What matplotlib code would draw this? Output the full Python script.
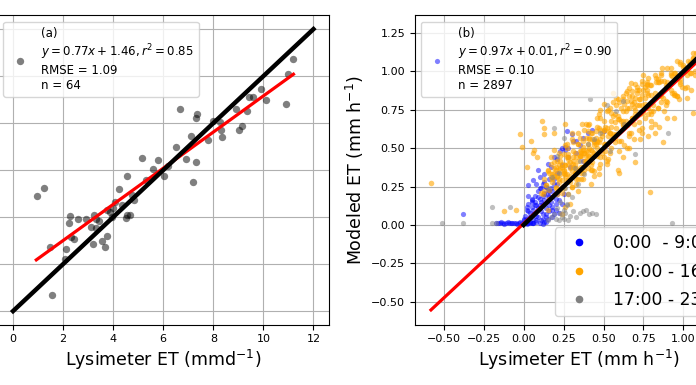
import matplotlib
matplotlib.use('Agg')
import matplotlib.pyplot as plt
from matplotlib.lines import Line2D

# panel (a), daily ET
daily_x = [11.2, 11.0, 9.92, 10.09, 10.9, 9.42, 9.6, 8.9, 9.36, 9.16, 9.01, 6.68, 7.34, 7.3, 8.0, 8.27,
           8.3, 8.35, 7.79, 7.12, 6.5, 6.92, 7.3, 5.14, 5.78, 5.58, 6.2, 6.04, 4.56, 7.2, 1.24, 4.23,
           0.97, 4.85, 4.07, 4.37, 3.74, 3.87, 2.28, 3.23, 4.67, 4.54, 4.5, 2.61, 2.92, 3.31, 3.94, 2.25,
           3.13, 3.31, 2.32, 2.42, 3.74, 3.54, 3.19, 3.67, 1.46, 2.12, 2.08, 1.57, 4.0, 3.45, 5.3, 4.75]
daily_y = [10.72, 10.09, 9.46, 9.0, 8.82, 9.1, 9.09, 8.58, 8.52, 7.86, 7.7, 8.61, 8.38, 8.21, 8.1, 8.06,
           7.7, 7.39, 7.28, 7.46, 6.99, 6.46, 6.35, 6.5, 6.41, 6.03, 6.18, 5.77, 5.74, 5.49, 5.25, 5.18,
           4.91, 4.72, 4.65, 4.51, 4.3, 4.2, 4.06, 4.09, 4.11, 4.09, 3.96, 3.9, 3.94, 3.93, 4.01, 3.77,
           3.59, 3.54, 3.16, 3.08, 3.19, 2.98, 2.86, 2.72, 2.72, 2.65, 2.21, 0.68, 4.4, 3.85, 5.6, 4.95]
daily_fit_x = [0.93, 11.2]
daily_fit_y = [2.18, 10.08]
daily_one_x = [0, 12]
daily_one_y = [0, 12]

# panel (b), hourly ET
blue_x = [-0.17, -0.15, -0.13, -0.11, -0.09, -0.07, -0.05, -0.03, -0.01, 0.0, 0.01, 0.02, 0.03, 0.04, 0.05, 0.06,
          -0.38, 0.03, 0.06, 0.08, 0.10, 0.03, 0.05, 0.02, 0.07, 0.09, 0.11, 0.13, 0.04, 0.06, 0.08, 0.10,
          0.12, 0.14, 0.16, 0.18, 0.02, 0.05, 0.07, 0.09, 0.11, 0.13, 0.15, 0.10, 0.12, 0.14, 0.16, 0.18,
          0.20, 0.09, 0.13, 0.17, 0.21, 0.15, 0.19, 0.23, 0.26, 0.27, 0.30, 0.33, 0.35, 0.37, 0.40, 0.43,
          0.50, 0.24, 0.26, 0.28, 0.31, 0.21, 0.24, 0.28, 0.19, 0.16, 0.18, 0.13, 0.37, 0.33, 0.29, 0.22,
          -0.16, -0.14, -0.12, -0.10, -0.08, -0.06, -0.04, -0.02, 0.0, 0.02, 0.04, 0.06, 0.08, 0.10, 0.12, 0.14,
          0.0, 0.01, 0.02, 0.03, 0.04, 0.05, 0.06, 0.07, 0.08, 0.09, 0.10, 0.11, 0.12, 0.13, 0.14, 0.15,
          0.02, 0.03, 0.04, 0.05, 0.06, 0.07, 0.08, 0.09, 0.10, 0.11, 0.12, 0.13, 0.14, 0.15, 0.16, 0.17,
          0.16, 0.17, 0.18, 0.19, 0.20, 0.21, 0.12, 0.14, 0.15, 0.18, 0.20, 0.22, 0.24, 0.25, 0.19, 0.21]
blue_y = [0.01, 0.01, 0.01, 0.01, 0.01, 0.01, 0.01, 0.01, 0.01, 0.01, 0.01, 0.01, 0.01, 0.01, 0.01, 0.01,
          0.07, 0.26, 0.29, 0.27, 0.24, 0.19, 0.15, 0.12, 0.08, 0.05, 0.03, 0.02, 0.05, 0.07, 0.03, 0.11,
          0.07, 0.05, 0.13, 0.10, 0.04, 0.16, 0.13, 0.18, 0.15, 0.21, 0.19, 0.31, 0.27, 0.25, 0.30, 0.22,
          0.17, 0.36, 0.33, 0.38, 0.34, 0.40, 0.44, 0.48, 0.51, 0.61, 0.59, 0.55, 0.52, 0.57, 0.60, 0.62,
          0.61, 0.50, 0.49, 0.50, 0.55, 0.43, 0.39, 0.44, 0.27, 0.22, 0.12, 0.28, 0.42, 0.47, 0.38, 0.08,
          0.01, 0.02, 0.005, 0.02, 0.01, 0.015, 0.005, 0.02, 0.03, 0.005, 0.02, 0.01, 0.02, 0.01, 0.005, 0.02,
          0.04, 0.06, 0.03, 0.09, 0.05, 0.12, 0.04, 0.15, 0.06, 0.11, 0.17, 0.09, 0.14, 0.20, 0.11, 0.16,
          0.10, 0.14, 0.08, 0.17, 0.10, 0.19, 0.13, 0.22, 0.13, 0.24, 0.19, 0.16, 0.25, 0.22, 0.19, 0.24,
          0.09, 0.15, 0.18, 0.07, 0.14, 0.20, 0.04, 0.07, 0.04, 0.05, 0.10, 0.16, 0.14, 0.20, 0.30, 0.27]

orange_x = [-0.58, 0.79, -0.02, -0.01, 0.115, 0.13, 0.13, 0.045, 0.065, 0.06, 0.085, 0.02, 0.26, 0.365, 0.60, 0.59,
            0.87, 0.94, 1.06, 1.02, 0.96, 0.865, 1.06, 0.67, 0.56, 0.18, 0.21, 0.24, 0.11, 0.15, -0.12, -0.05,
            0.26, 0.19, 0.39, 0.12, 0.14, 0.16, 0.18, 0.20, 0.22, 0.24, 0.26, 0.28, 0.30, 0.32, 0.34, 0.36,
            0.13, 0.15, 0.17, 0.19, 0.21, 0.23, 0.25, 0.27, 0.29, 0.31, 0.33, 0.35, 0.37, 0.39, 0.41, 0.43,
            0.17, 0.19, 0.21, 0.23, 0.25, 0.27, 0.29, 0.31, 0.33, 0.35, 0.37, 0.39, 0.41, 0.43, 0.45, 0.47,
            0.20, 0.22, 0.24, 0.26, 0.28, 0.30, 0.32, 0.34, 0.36, 0.38, 0.40, 0.42, 0.44, 0.46, 0.48, 0.50,
            0.22, 0.25, 0.28, 0.31, 0.34, 0.37, 0.40, 0.43, 0.46, 0.49, 0.52, 0.55, 0.58, 0.61, 0.64, 0.67,
            0.27, 0.30, 0.33, 0.36, 0.39, 0.42, 0.45, 0.48, 0.51, 0.54, 0.57, 0.60, 0.63, 0.66, 0.69, 0.72,
            0.35, 0.38, 0.41, 0.44, 0.47, 0.50, 0.53, 0.56, 0.59, 0.62, 0.65, 0.68, 0.71, 0.74, 0.77, 0.80,
            0.40, 0.44, 0.48, 0.52, 0.56, 0.60, 0.64, 0.68, 0.72, 0.76, 0.80, 0.84, 0.88, 0.92, 0.96, 1.00,
            0.46, 0.50, 0.54, 0.58, 0.62, 0.66, 0.70, 0.74, 0.78, 0.82, 0.86, 0.90, 0.94, 0.98, 1.02, 1.06,
            0.52, 0.57, 0.61, 0.65, 0.69, 0.73, 0.77, 0.81, 0.85, 0.89, 0.93, 0.97, 1.01, 1.05, 1.08, 0.75,
            0.62, 0.66, 0.70, 0.74, 0.78, 0.82, 0.86, 0.90, 0.94, 0.98, 1.03, 1.07, 0.80, 0.84, 0.72, 0.76,
            0.44, 0.48, 0.38, 0.33, 0.50, 0.53, 0.55, 0.47, 0.42, 0.36, 0.62, 0.66, 0.70, 0.78, 0.82, 0.85,
            0.19, 0.24, 0.26, 0.28, 0.31, 0.29, 0.14, 0.16, 0.18, 0.20, 0.22, 0.24, 0.26, 0.28, 0.30, 0.32,
            0.34, 0.36, 0.38, 0.40, 0.42, 0.44, 0.15, 0.17, 0.19, 0.21, 0.23, 0.25, 0.27, 0.29, 0.31, 0.33,
            0.35, 0.37, 0.39, 0.41, 0.43, 0.45, 0.46, 0.48, 0.50, 0.52, 0.54, 0.56, 0.58, 0.60, 0.62, 0.64,
            0.66, 0.68, 0.70, 0.72, 0.74, 0.76, 0.47, 0.49, 0.51, 0.53, 0.55, 0.57, 0.59, 0.61, 0.63, 0.65,
            0.67, 0.69, 0.71, 0.73, 0.75, 0.77, 0.78, 0.80, 0.82, 0.84, 0.86, 0.88, 0.90, 0.92, 0.94, 0.96,
            0.98, 1.00, 1.02, 1.04, 1.06, 1.08, 0.62, 0.65, 0.68, 0.71, 0.74, 0.77, 0.80, 0.83, 0.86, 0.89,
            0.92, 0.95, 0.98, 1.01, 1.04, 1.07, 0.13, 0.16, 0.19, 0.22, 0.25, 0.28, 0.31, 0.34, 0.37, 0.40,
            0.43, 0.46, 0.49, 0.52, 0.55, 0.58, 0.24, 0.27, 0.30, 0.33, 0.36, 0.39, 0.42, 0.45, 0.48, 0.51,
            0.54, 0.57, 0.60, 0.63, 0.66, 0.69, 0.72, 0.75, 0.78, 0.81, 0.84, 0.87, 0.90, 0.93, 0.96, 0.99,
            1.02, 1.05, 0.70, 0.73, 0.76, 0.79, 0.20, 0.23, 0.26, 0.29, 0.32, 0.35, 0.38, 0.41, 0.44, 0.47,
            0.50, 0.53, 0.56, 0.59, 0.62, 0.65, 0.68, 0.71, 0.74, 0.77, 0.80, 0.83, 0.86, 0.89, 0.92, 0.95,
            0.98, 0.34, 0.37, 0.40, 0.43, 0.46]
orange_y = [0.275, 0.217, 0.59, 0.51, 0.68, 0.63, 0.59, 0.55, 0.49, 0.47, 0.44, 0.38, 0.66, 0.66, 0.34, 0.36,
            0.54, 0.70, 0.73, 0.83, 1.07, 1.02, 1.12, 0.925, 0.86, 0.33, 0.20, 0.07, 0.21, 0.10, 0.09, 0.10,
            0.12, 0.60, 0.66, 0.20, 0.26, 0.17, 0.30, 0.24, 0.36, 0.29, 0.39, 0.20, 0.25, 0.33, 0.22, 0.38,
            0.30, 0.36, 0.40, 0.34, 0.42, 0.37, 0.46, 0.33, 0.41, 0.48, 0.36, 0.45, 0.34, 0.42, 0.50, 0.36,
            0.44, 0.49, 0.31, 0.45, 0.35, 0.50, 0.28, 0.54, 0.44, 0.57, 0.30, 0.48, 0.56, 0.41, 0.53, 0.37,
            0.38, 0.47, 0.40, 0.52, 0.44, 0.56, 0.39, 0.60, 0.48, 0.62, 0.45, 0.60, 0.35, 0.64, 0.40, 0.68,
            0.28, 0.24, 0.46, 0.42, 0.53, 0.49, 0.65, 0.56, 0.70, 0.60, 0.74, 0.50, 0.78, 0.55, 0.86, 0.60,
            0.53, 0.60, 0.30, 0.45, 0.57, 0.39, 0.61, 0.70, 0.48, 0.76, 0.67, 0.80, 0.52, 0.84, 0.56, 0.88,
            0.36, 0.47, 0.66, 0.52, 0.72, 0.44, 0.75, 0.58, 0.82, 0.65, 0.87, 0.70, 0.90, 0.63, 0.92, 0.72,
            0.61, 0.32, 0.75, 0.42, 0.80, 0.48, 0.74, 0.84, 0.62, 0.90, 0.68, 0.95, 0.74, 0.98, 0.84, 1.03,
            0.55, 0.79, 0.60, 0.83, 0.66, 0.89, 0.72, 0.94, 0.76, 0.98, 0.80, 1.02, 0.85, 1.05, 0.90, 1.09,
            0.40, 0.72, 0.76, 0.50, 0.80, 0.56, 0.88, 0.74, 0.93, 0.78, 0.97, 0.82, 1.00, 0.88, 1.12, 0.98,
            0.84, 0.58, 0.92, 0.60, 0.96, 0.66, 0.99, 0.70, 0.86, 0.93, 1.07, 1.00, 0.64, 0.76, 0.82, 0.70,
            0.47, 0.56, 0.36, 0.27, 0.62, 0.43, 0.68, 0.33, 0.27, 0.30, 0.44, 0.50, 0.41, 0.58, 0.60, 0.64,
            0.37, 0.25, 0.33, 0.29, 0.38, 0.14, 0.26, 0.34, 0.28, 0.36, 0.30, 0.38, 0.32, 0.40, 0.35, 0.47,
            0.42, 0.47, 0.42, 0.53, 0.49, 0.54, 0.35, 0.31, 0.41, 0.32, 0.42, 0.34, 0.44, 0.32, 0.44, 0.34,
            0.45, 0.55, 0.45, 0.57, 0.45, 0.57, 0.54, 0.62, 0.53, 0.63, 0.60, 0.71, 0.59, 0.69, 0.74, 0.68,
            0.76, 0.70, 0.83, 0.78, 0.85, 0.79, 0.63, 0.47, 0.64, 0.58, 0.73, 0.54, 0.71, 0.68, 0.79, 0.65,
            0.81, 0.77, 0.88, 0.72, 0.88, 0.86, 0.85, 0.91, 0.86, 0.93, 0.84, 0.94, 0.93, 0.88, 0.99, 0.97,
            0.95, 1.04, 1.01, 1.06, 1.09, 1.08, 0.82, 0.81, 0.87, 0.86, 0.92, 0.91, 0.74, 0.93, 0.98, 0.81,
            0.99, 0.85, 0.92, 0.89, 0.99, 0.98, 0.22, 0.23, 0.32, 0.39, 0.36, 0.43, 0.40, 0.53, 0.51, 0.48,
            0.60, 0.50, 0.58, 0.53, 0.64, 0.63, 0.21, 0.29, 0.25, 0.37, 0.34, 0.42, 0.36, 0.46, 0.44, 0.53,
            0.47, 0.57, 0.55, 0.64, 0.60, 0.66, 0.67, 0.73, 0.72, 0.78, 0.76, 0.83, 0.80, 0.86, 0.84, 0.90,
            0.98, 0.99, 0.75, 0.82, 0.83, 0.91, 0.25, 0.33, 0.39, 0.37, 0.34, 0.48, 0.47, 0.45, 0.55, 0.54,
            0.62, 0.61, 0.59, 0.69, 0.68, 0.76, 0.79, 0.78, 0.78, 0.93, 0.85, 0.96, 0.94, 0.91, 1.02, 0.99,
            1.06, 0.30, 0.38, 0.37, 0.48, 0.45]

gray_x = [-0.51, -0.38, -0.2, -0.17, 0.93, -0.2, -0.085, 0.416, 0.19, 0.905, 0.70, 0.52, 0.62, 0.23, 0.25, 0.27,
          0.29, 0.31, 0.33, 0.35, 0.37, 0.39, 0.41, 0.43, 0.45, 0.20, 0.22, 0.24, 0.26, 0.28, 0.21, 0.23, 0.25,
          0.27, 0.19, 0.17, 0.15, 0.30, 0.26, 0.28, 0.18, 0.15, 0.22, 0.32, 0.35, 0.40, 0.44, 0.48, 0.58, 0.63,
          0.54, 0.25, 0.21, 0.34, 0.38]
gray_y = [0.015, 0.015, 0.015, 0.015, 0.015, 0.115, 0.115, 0.82, 0.63, 0.60, 0.46, 0.78, 0.81, 0.08, 0.10, 0.13,
          0.06, 0.09, 0.05, 0.08, 0.09, 0.10, 0.07, 0.08, 0.07, 0.04, 0.03, 0.05, 0.08, 0.03, 0.11, 0.15, 0.04,
          0.14, 0.07, 0.05, 0.03, 0.18, 0.24, 0.20, 0.31, 0.24, 0.34, 0.37, 0.42, 0.53, 0.56, 0.60, 0.74, 0.66,
          0.48, 0.57, 0.45, 0.27, 0.33]

hourly_fit_x = [-0.58, 1.3]
hourly_fit_y = [-0.553, 1.271]
hourly_one_x = [0, 1.3]
hourly_one_y = [0, 1.3]

W, H = 696, 385
fig = plt.figure(figsize=(W / 100, H / 100), dpi=100)

ax1 = fig.add_axes([-2 / W, 1 - 324.5 / H, 331 / W, 309.5 / H])
ax2 = fig.add_axes([415 / W, 1 - 324.5 / H, 327 / W, 309.5 / H])

# (a)
ax1.scatter(daily_x, daily_y, s=28, c='k', alpha=0.5, linewidths=0,
            label='(a)\n$y = 0.77x + 1.46, r^2 = 0.85$\nRMSE = 1.09\nn = 64')
ax1.plot(daily_fit_x, daily_fit_y, c='r', lw=2.3, zorder=3)
ax1.plot(daily_one_x, daily_one_y, c='k', lw=3.2, zorder=4)
ax1.set_xlim(-0.6, 12.62)
ax1.set_ylim(-0.57, 12.6)
ax1.set_xticks([0, 2, 4, 6, 8, 10, 12])
ax1.set_yticks([0, 2, 4, 6, 8, 10, 12])
ax1.grid(True)
ax1.tick_params(labelsize=8, labelleft=False, left=False)
ax1.set_axisbelow(True)
ax1.set_xlabel('Lysimeter ET (mmd$^{-1}$)', fontsize=12.5, labelpad=3)
ax1.legend(loc='upper left', fontsize=8.5, borderaxespad=0, labelspacing=0.3,
           bbox_to_anchor=(5.5 / 331, 1 - 7 / 309.5))

# (b)
p = ax2.scatter(blue_x, blue_y, s=14, c='blue', alpha=0.5, linewidths=0,
                label='(b)\n$y = 0.97x + 0.01, r^2 = 0.90$\nRMSE = 0.10\nn = 2897')
ax2.scatter(orange_x, orange_y, s=16, c='orange', alpha=0.6, linewidths=0)
ax2.scatter(gray_x, gray_y, s=14, c='gray', alpha=0.5, linewidths=0)
ax2.plot(hourly_fit_x, hourly_fit_y, c='r', lw=2.3, zorder=3)
ax2.plot(hourly_one_x, hourly_one_y, c='k', lw=3.2, zorder=4)
ax2.set_xlim(-0.68, 1.367)
ax2.set_ylim(-0.648, 1.368)
ax2.set_xticks([-0.5, -0.25, 0, 0.25, 0.5, 0.75, 1.0])
ax2.set_yticks([-0.5, -0.25, 0, 0.25, 0.5, 0.75, 1.0, 1.25])
ax2.grid(True)
ax2.tick_params(labelsize=8)
ax2.set_axisbelow(True)
ax2.set_xlabel('Lysimeter ET (mm h$^{-1}$)', fontsize=12.5, labelpad=3)
ax2.set_ylabel('Modeled ET (mm h$^{-1}$)', fontsize=12.5, labelpad=4)
leg = ax2.legend(handles=[p], loc='upper left', fontsize=8.5, borderaxespad=0, labelspacing=0.3,
                 bbox_to_anchor=(5.5 / 327, 1 - 7 / 309.5))
ax2.add_artist(leg)
handles = [Line2D([], [], ls='', marker='o', ms=4.5, c=col) for col in ['blue', 'orange', 'gray']]
ax2.legend(handles, ['0:00  - 9:00', '10:00 - 16:00', '17:00 - 23:00'], fontsize=12.3, loc='lower left',
           bbox_to_anchor=((555 - 415) / 327, (324.5 - 316) / 309.5), borderaxespad=0, labelspacing=0.62,
           handletextpad=1.0)

fig.savefig('out.png', dpi=100)
